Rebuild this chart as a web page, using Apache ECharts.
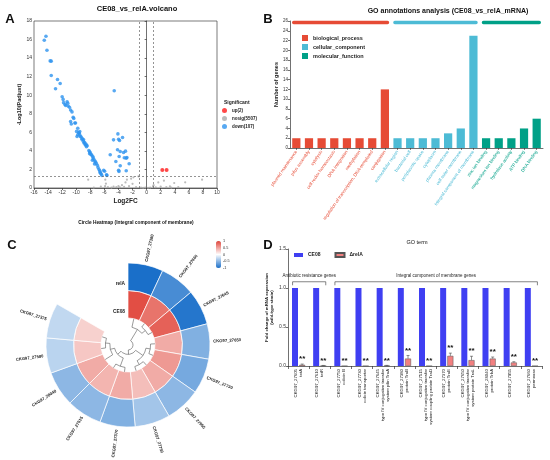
<!DOCTYPE html>
<html lang="en">
<head>
  <meta charset="UTF-8">
  <title>Figure</title>
  <style>
    html, body { margin: 0; padding: 0; background: #fff; }
    #echart { width: 550px; height: 460px; }
  </style>
</head>
<body>
  <div id="echart"></div>
  <script src="https://cdn.jsdelivr.net/npm/echarts@6/dist/echarts.min.js"></script>
  <script>
    var FONT = 'Liberation Sans, Arial, Helvetica, sans-serif';

    // ---- A: volcano (log2FC, -log10 padj)
    var volcanoUp = [[2.23, 1.93], [2.84, 1.93]];
    var volcanoDown = [
      [-14.54, 15.93], [-14.3, 16.36], [-14.16, 14.85], [-13.7, 13.7], [-13.55, 13.67], [-13.55, 12.13],
      [-12.94, 10.7], [-12.66, 11.7], [-12.28, 11.27], [-12.0, 9.84], [-11.86, 9.55], [-11.8, 9.2],
      [-11.6, 9.0], [-11.5, 8.9], [-11.3, 9.3], [-11.2, 9.13], [-11.15, 8.84], [-10.96, 8.7], [-10.8, 8.41],
      [-10.6, 8.2], [-10.44, 7.62], [-10.35, 7.5], [-10.8, 7.16], [-10.7, 6.9], [-10.2, 7.0], [-10.1, 7.0],
      [-9.95, 6.1], [-9.78, 6.44], [-9.64, 5.98], [-9.6, 5.9], [-9.5, 5.73], [-9.5, 6.08], [-9.4, 5.55],
      [-9.88, 5.55], [-9.78, 5.73], [-9.3, 5.5], [-9.2, 5.25], [-9.1, 5.3], [-9.0, 5.05], [-8.95, 5.2],
      [-8.9, 4.85], [-8.8, 4.9], [-8.75, 4.75], [-8.65, 4.6], [-8.6, 4.7], [-8.55, 4.45], [-8.45, 4.55],
      [-8.2, 4.04], [-8.1, 3.9], [-8.0, 3.8], [-8.1, 3.7], [-7.9, 3.6], [-7.8, 3.55], [-7.7, 3.0],
      [-7.65, 3.4], [-7.6, 3.25], [-7.5, 3.1], [-7.4, 2.6], [-7.35, 2.9], [-7.25, 2.8], [-7.15, 2.65],
      [-7.0, 2.45], [-6.9, 2.2], [-6.76, 2.0], [-6.66, 1.85], [-6.6, 1.7], [-6.55, 1.6], [-6.45, 1.5],
      [-6.35, 1.35], [-6.1, 1.9], [-5.97, 1.8], [-5.7, 1.43], [-5.64, 1.36],
      [-4.6, 10.49], [-5.17, 3.58], [-4.7, 5.19], [-4.37, 2.86], [-4.08, 5.83], [-3.98, 5.26], [-3.85, 5.12],
      [-4.13, 4.12], [-3.9, 3.4], [-3.98, 1.9], [-3.93, 1.79], [-3.75, 2.4], [-3.42, 5.44], [-3.28, 3.83],
      [-3.0, 3.97], [-2.9, 3.22], [-2.8, 3.29], [-2.9, 1.86], [-3.17, 3.26], [-2.48, 2.61], [-3.75, 3.94]
    ];
    var volcanoNosig = [
      [-8.3, 0.9], [-7.5, 0.05], [-6.5, 0.15], [-5.87, 0.9], [-5.78, 0.47], [-5.9, 0.2], [-5.5, 0.1],
      [-5.0, 0.05], [-4.7, 0.15], [-4.3, 0.1], [-4.0, 0.2], [-3.8, 0.08], [-3.5, 0.3], [-3.2, 0.12],
      [-3.0, 0.6], [-2.8, 0.9], [-2.5, 0.2], [-2.2, 1.0], [-2.0, 0.45], [-1.87, 1.15], [-1.5, 0.1],
      [-1.16, 1.25], [-0.8, 0.05], [-0.5, 0.02], [-0.2, 0.03], [0.2, 0.02], [0.5, 0.05], [0.9, 0.18],
      [1.0, 0.3], [1.3, 0.08], [1.66, 0.6], [2.0, 0.15], [2.46, 0.79], [2.8, 0.1], [3.31, 0.18],
      [3.5, 0.05], [3.92, 0.54], [4.5, 0.1], [5.48, 0.61], [7.88, 0.9]
    ];
    var volcanoNames = ['up(2)', 'nosig(5507)', 'down(107)'];
    var volcanoX = { min: -16, max: 10, step: 2 };
    var volcanoY = { min: 0, max: 18, step: 2 };
    var fcCut = 1, padjCut = 1.3;

    // ---- B: GO annotation counts
    var goGroups = ['biological_process', 'cellular_component', 'molecular_function'];
    var goColors = ['#E64B35', '#4DBBD5', '#00A087'];
    var bpTerms = ['plasmid maintenance', 'pilus assembly', 'cytolysis', 'cell redox homeostasis', 'DNA integration',
      'methylation', 'regulation of transcription, DNA-templated', 'conjugation'];
    var bpCounts = [2, 2, 2, 2, 2, 2, 2, 12];
    var ccTerms = ['extracellular region', 'bacterial cell', 'periplasmic space', 'cytoplasm', 'plasma membrane',
      'cell outer membrane', 'integral component of membrane'];
    var ccCounts = [2, 2, 2, 2, 3, 4, 23];
    var mfTerms = ['zinc ion binding', 'magnesium ion binding', 'hydrolase activity', 'ATP binding', 'DNA binding'];
    var mfCounts = [2, 2, 2, 4, 6];

    // ---- C: circle heatmap
    var heatGenes = ['CKG97_27380', 'CKG97_27660', 'CKG97_27645', 'CKG97_27650', 'CKG97_27730', 'CKG97_27955',
      'CKG97_27750', 'CKG97_27370', 'CKG97_27515', 'CKG97_28040', 'CKG97_27580', 'CKG97_27375'];
    var heatCE08 = [0.95, 0.75, 0.85, 0.45, 0.55, 0.45, 0.35, 0.45, 0.4, 0.45, 0.3, 0.25];
    var heatRelA = [-1, -0.8, -0.95, -0.55, -0.6, -0.5, -0.4, -0.55, -0.5, -0.5, -0.3, -0.27];
    var heatRings = ['CE08', 'relA'];
    var heatTree = [[0, [1, 2]], [[[3, 4], [5, 6]], [[7, 8], [9, [10, 11]]]]];
    var colorbarTicks = [1, 0.5, 0, -0.5, -1];

    // ---- D: fold change
    var dGenes = ['CKG97_27605\ntetA', 'CKG97_27610\ntetR', 'CKG97_27750\ncolicin B', 'CKG97_27730\ncolicin transporter',
      'CKG97_27645\ntype IV conjugative transfer\nsystem pilin TraA', 'CKG97_27380\nprotein TraB',
      'CKG97_27515\ntype IV conjugative transfer\nsystem coupling protein TraD', 'CKG97_27370\nprotein TraE',
      'CKG97_27650\ntype IV conjugative transfer\nsystem protein TraL', 'CKG97_28040\nprotein TrbA',
      'CKG97_27955', 'CKG97_27660\npermease'];
    var dCE08 = [1, 1, 1, 1, 1, 1, 1, 1, 1, 1, 1, 1];
    var dRelA = [0.015, 0.004, 0, 0, 0.005, 0.095, 0, 0.13, 0.075, 0.095, 0.045, 0];
    var dRelAErr = [0.01, 0.003, 0, 0, 0.003, 0.04, 0, 0.035, 0.05, 0.02, 0.01, 0];
    var dBracketNames = ['Antibiotic resistance genes', 'Integral component of membrane genes'];
    var dBracketRanges = [[0, 1], [2, 11]];
    var dSeries = ['CE08', '\u0394relA'];

    // ---------- derived tables
    var goTerms = bpTerms.concat(ccTerms, mfTerms);
    var goGroupOf = [];
    var groupSpans = [];
    [bpTerms, ccTerms, mfTerms].forEach(function (t, g) {
      groupSpans.push([goGroupOf.length, goGroupOf.length + t.length - 1, g]);
      t.forEach(function () { goGroupOf.push(g); });
    });
    function padCounts(g, counts) {
      var k = 0;
      return goGroupOf.map(function (gg) { return gg === g ? counts[k++] : 0; });
    }
    var heatData = [];
    heatGenes.forEach(function (_, i) {
      heatData.push([i, 0, heatCE08[i]]);
      heatData.push([i, 1, heatRelA[i]]);
    });
    var errData = dRelA.map(function (v, i) { return [i, v, dRelAErr[i]]; });
    var bracketData = dBracketRanges.map(function (r, i) { return [r[0], r[1], i]; });

    var BAR_W = 6, BAR_GAP = 0.2;
    var SPAN = 300 / heatGenes.length;

    function axisStyle(size) {
      return {
        axisLine: { show: true, lineStyle: { color: '#333', width: 0.7 } },
        axisTick: { show: true, length: 2, lineStyle: { color: '#333', width: 0.7 } },
        axisLabel: { fontSize: size, color: '#333', margin: 2, fontFamily: FONT },
        splitLine: { show: false }
      };
    }
    function merge(a, b) { for (var k in b) a[k] = b[k]; return a; }

    function txt(text, x, y, size, bold, align, color) {
      return {
        type: 'text', x: x, y: y, silent: true,
        style: {
          text: text, fontSize: size, fontWeight: bold ? 'bold' : 'normal', fontFamily: FONT,
          fill: color || '#111', align: align || 'center', verticalAlign: 'middle'
        }
      };
    }

    // B: coloured header bars over each GO group
    function renderHeader(params, api) {
      var p0 = api.coord([api.value(0), 25.7]);
      var p1 = api.coord([api.value(1), 25.7]);
      var band = api.size([1, 0])[0];
      return {
        type: 'rect',
        shape: { x: p0[0] - band / 2 + 2, y: p0[1] - 1.7, width: p1[0] - p0[0] + band - 4, height: 3.4, r: 1.7 },
        style: { fill: goColors[api.value(2)] }
      };
    }

    // D: error whiskers + significance marks on the ΔrelA bars
    function renderErr(params, api) {
      var v = api.value(1), e = api.value(2);
      var base = api.coord([api.value(0), v]);
      var top = api.coord([api.value(0), v + e]);
      var x = base[0] + BAR_W * (1 + BAR_GAP) / 2;
      var kids = [];
      if (e > 0) {
        kids.push({ type: 'line', shape: { x1: x, y1: base[1], x2: x, y2: top[1] }, style: { stroke: '#444', lineWidth: 0.6 } });
        kids.push({ type: 'line', shape: { x1: x - 1.5, y1: top[1], x2: x + 1.5, y2: top[1] }, style: { stroke: '#444', lineWidth: 0.6 } });
      }
      kids.push({
        type: 'text', x: x, y: top[1] - 1,
        style: { text: '**', fontSize: 8, fontWeight: 'bold', fontFamily: FONT, fill: '#111', align: 'center', verticalAlign: 'bottom' }
      });
      return { type: 'group', children: kids };
    }

    function renderBracket(params, api) {
      var x0 = api.coord([api.value(0), 0])[0] - 6;
      var x1 = api.coord([api.value(1), 0])[0] + 6;
      var y = api.coord([0, 1.08])[1];
      var yTip = api.coord([0, 1.035])[1];
      var yText = api.coord([0, 1.12])[1];
      return {
        type: 'group', children: [
          { type: 'polyline', shape: { points: [[x0, yTip], [x0, y], [x1, y], [x1, yTip]] }, style: { stroke: '#333', lineWidth: 0.6, fill: null } },
          { type: 'text', x: (x0 + x1) / 2, y: yText, style: { text: dBracketNames[api.value(2)], fontSize: 4.5, fontFamily: FONT, fill: '#222', align: 'center', verticalAlign: 'bottom' } }
        ]
      };
    }

    // C: heat sectors, angle axis runs clockwise from 12 o'clock
    function renderHeat(params, api) {
      var cs = params.coordSys;
      var i = api.value(0), ring = api.value(1);
      function pt(rv, av) {
        var p = api.coord([rv, av]);
        return { x: p[0], y: p[1], r: Math.hypot(p[0] - cs.cx, p[1] - cs.cy), a: Math.atan2(p[1] - cs.cy, p[0] - cs.cx) };
      }
      var inner = pt(ring, i * SPAN), outer = pt(ring + 1, i * SPAN), end = pt(ring, (i + 1) * SPAN);
      var a0 = inner.a, a1 = end.a;
      while (a1 <= a0) a1 += Math.PI * 2;
      var kids = [{
        type: 'sector',
        shape: { cx: cs.cx, cy: cs.cy, r0: inner.r, r: outer.r, startAngle: a0, endAngle: a1, clockwise: true },
        style: { fill: api.visual('color'), stroke: '#fff', lineWidth: 0.7 }
      }];
      if (ring === 1) {
        var lp = pt(2.12, (i + 0.5) * SPAN);
        var right = Math.cos(lp.a) >= 0;
        kids.push({
          type: 'text', x: lp.x, y: lp.y, rotation: right ? -lp.a : Math.PI - lp.a,
          style: { text: heatGenes[i], fontSize: 4.2, fontWeight: 'bold', fontFamily: FONT, fill: '#222', align: right ? 'left' : 'right', verticalAlign: 'middle' }
        });
      }
      if (i === 0) {
        var rp = pt(ring + 0.5, 0);
        kids.push({
          type: 'text', x: rp.x - 3, y: rp.y + 7,
          style: { text: heatRings[ring], fontSize: 4.8, fontWeight: 'bold', fontFamily: FONT, fill: '#222', align: 'right', verticalAlign: 'middle' }
        });
      }
      return { type: 'group', children: kids };
    }

    function renderTree(params, api) {
      var cs = params.coordSys;
      function depth(n) { return typeof n === 'number' ? 0 : 1 + Math.max.apply(null, n.map(depth)); }
      var H = depth(heatTree);
      var r0 = cs.r0, step = (r0 - 5) / H;
      var els = [];
      var st = { stroke: '#555', lineWidth: 0.6, fill: null };
      function ang(av) { var p = api.coord([0, av]); return Math.atan2(p[1] - cs.cy, p[0] - cs.cx); }
      function walk(n) {
        if (typeof n === 'number') return { av: (n + 0.5) * SPAN, h: 0 };
        var kids = n.map(walk);
        var h = 1 + Math.max.apply(null, kids.map(function (k) { return k.h; }));
        var rN = r0 - h * step;
        kids.forEach(function (k) {
          var rK = r0 - k.h * step, t = ang(k.av);
          els.push({ type: 'line', shape: { x1: cs.cx + rK * Math.cos(t), y1: cs.cy + rK * Math.sin(t), x2: cs.cx + rN * Math.cos(t), y2: cs.cy + rN * Math.sin(t) }, style: st });
        });
        var a0 = ang(kids[0].av), a1 = ang(kids[kids.length - 1].av);
        while (a1 < a0) a1 += Math.PI * 2;
        els.push({ type: 'arc', shape: { cx: cs.cx, cy: cs.cy, r: rN, startAngle: a0, endAngle: a1, clockwise: true }, style: st });
        return { av: (kids[0].av + kids[kids.length - 1].av) / 2, h: h };
      }
      walk(heatTree);
      return { type: 'group', children: els };
    }

    // colour bar tick labels
    var cbTop = 241, cbH = 27, cbLeft = 216;
    var graphics = [
      txt('A', 10, 19, 13, true), txt('B', 268, 19, 13, true),
      txt('C', 12, 245, 13, true), txt('D', 268, 245, 13, true),
      txt('CE08_vs_relA.volcano', 137, 9, 7.5, true),
      txt('GO annotations analysis (CE08_vs_relA_mRNA)', 448, 11, 7, true),
      txt('Circle Heatmap (Integral component of membrane)', 136, 223, 4.8, true),
      txt('GO term', 417, 242, 5.5, false),
      txt('Significant', 224, 103, 5, true, 'left', '#222')
    ];
    colorbarTicks.forEach(function (t) {
      graphics.push(txt(String(t), cbLeft + 7, cbTop + (1 - (t + 1) / 2) * cbH, 3.8, false, 'left', '#333'));
    });

    var option = {
      animation: false,
      backgroundColor: '#fff',
      textStyle: { fontFamily: FONT },
      graphic: graphics,
      grid: [
        { left: 34, top: 21, width: 183, height: 167, show: true, borderColor: '#444', borderWidth: 0.7 },
        { left: 290, top: 21, width: 253, height: 127 },
        { left: 288, top: 249, width: 254, height: 117 }
      ],
      polar: { center: [128, 345], radius: [27, 82] },
      angleAxis: { type: 'value', min: 0, max: 360, startAngle: 90, clockwise: true, show: false },
      radiusAxis: { type: 'value', min: 0, max: 2, show: false },
      xAxis: [
        merge(axisStyle(5), {
          gridIndex: 0, type: 'value', min: volcanoX.min, max: volcanoX.max, interval: volcanoX.step,
          name: 'Log2FC', nameLocation: 'middle', nameGap: 10,
          nameTextStyle: { fontSize: 6.5, fontWeight: 'bold', color: '#222' }
        }),
        merge(axisStyle(4.5), {
          gridIndex: 1, type: 'category', data: goTerms,
          axisTick: { show: true, length: 2, alignWithLabel: true, lineStyle: { color: '#333', width: 0.6 } },
          axisLabel: {
            interval: 0, rotate: 55, fontSize: 4.5, margin: 3, fontFamily: FONT,
            color: function (v, i) { return goColors[goGroupOf[i]]; }
          }
        }),
        merge(axisStyle(4.5), {
          gridIndex: 2, type: 'category', data: dGenes,
          axisTick: { show: true, length: 3, lineStyle: { color: '#333', width: 0.7 } },
          axisLabel: { interval: 0, rotate: 90, fontSize: 4.3, lineHeight: 5, margin: 3, color: '#222', fontFamily: FONT }
        })
      ],
      yAxis: [
        merge(axisStyle(5), {
          gridIndex: 0, type: 'value', min: volcanoY.min, max: volcanoY.max, interval: volcanoY.step,
          name: '-Log10(Padjust)', nameLocation: 'middle', nameGap: 9,
          nameTextStyle: { fontSize: 5.5, fontWeight: 'bold', color: '#222' }
        }),
        merge(axisStyle(4.5), {
          gridIndex: 1, type: 'value', min: 0, max: 26, interval: 2,
          name: 'Number of genes', nameLocation: 'middle', nameGap: 9,
          nameTextStyle: { fontSize: 5.5, fontWeight: 'bold', color: '#222' }
        }),
        merge(axisStyle(5), {
          gridIndex: 2, type: 'value', min: 0, max: 1.5, interval: 0.5,
          axisLabel: { fontSize: 5, color: '#333', margin: 2, fontFamily: FONT, formatter: function (v) { return v.toFixed(1); } },
          name: 'Fold change of mRNA expression\n(wild-type strain)', nameLocation: 'middle', nameGap: 14,
          nameTextStyle: { fontSize: 4.3, fontWeight: 'bold', color: '#222', lineHeight: 5 }
        })
      ],
      legend: [
        {
          data: volcanoNames, orient: 'vertical', left: 222, top: 108, padding: 0, selectedMode: false,
          icon: 'circle', itemWidth: 5, itemHeight: 5, itemGap: 3,
          textStyle: { fontSize: 4.5, fontWeight: 'bold', color: '#222', fontFamily: FONT }
        },
        {
          data: goGroups, orient: 'vertical', left: 302, top: 35, padding: 0, selectedMode: false,
          icon: 'rect', itemWidth: 6, itemHeight: 6, itemGap: 3,
          textStyle: { fontSize: 5.5, fontWeight: 'bold', color: '#222', fontFamily: FONT }
        },
        {
          data: dSeries, left: 294, top: 252, padding: 0, selectedMode: false,
          icon: 'rect', itemWidth: 9, itemHeight: 4, itemGap: 14,
          textStyle: { fontSize: 5, fontWeight: 'bold', color: '#222', fontFamily: FONT }
        }
      ],
      visualMap: {
        type: 'continuous', min: -1, max: 1, seriesIndex: 11, dimension: 2,
        left: cbLeft, top: cbTop, itemWidth: 5, itemHeight: cbH, padding: 0, calculable: false,
        inRange: { color: ['#1a6fc9', '#ffffff', '#e0453a'] }
      },
      series: [
        { name: volcanoNames[0], type: 'scatter', xAxisIndex: 0, yAxisIndex: 0, data: volcanoUp, symbolSize: 4, itemStyle: { color: '#ff1a1a' } },
        {
          name: volcanoNames[1], type: 'scatter', xAxisIndex: 0, yAxisIndex: 0, data: volcanoNosig, symbolSize: 2.2, itemStyle: { color: '#aaaaaa' },
          markLine: {
            silent: true, symbol: 'none', label: { show: false },
            lineStyle: { type: [2, 2], color: '#666', width: 0.7 },
            data: [{ xAxis: -fcCut }, { xAxis: fcCut }, { yAxis: padjCut }]
          }
        },
        { name: volcanoNames[2], type: 'scatter', xAxisIndex: 0, yAxisIndex: 0, data: volcanoDown, symbolSize: 3.6, itemStyle: { color: '#2e93ef' } },

        { name: goGroups[0], type: 'bar', xAxisIndex: 1, yAxisIndex: 1, stack: 'go', barWidth: '65%', data: padCounts(0, bpCounts), itemStyle: { color: goColors[0] } },
        { name: goGroups[1], type: 'bar', xAxisIndex: 1, yAxisIndex: 1, stack: 'go', barWidth: '65%', data: padCounts(1, ccCounts), itemStyle: { color: goColors[1] } },
        { name: goGroups[2], type: 'bar', xAxisIndex: 1, yAxisIndex: 1, stack: 'go', barWidth: '65%', data: padCounts(2, mfCounts), itemStyle: { color: goColors[2] } },
        { type: 'custom', xAxisIndex: 1, yAxisIndex: 1, data: groupSpans, renderItem: renderHeader, silent: true },

        { name: dSeries[0], type: 'bar', xAxisIndex: 2, yAxisIndex: 2, barWidth: BAR_W, barGap: (BAR_GAP * 100) + '%', data: dCE08, itemStyle: { color: '#3f3ff2' } },
        { name: dSeries[1], type: 'bar', xAxisIndex: 2, yAxisIndex: 2, barWidth: BAR_W, data: dRelA, itemStyle: { color: '#f28080', borderColor: '#555', borderWidth: 0.5 } },
        { type: 'custom', xAxisIndex: 2, yAxisIndex: 2, data: errData, renderItem: renderErr, silent: true, z: 5 },
        { type: 'custom', xAxisIndex: 2, yAxisIndex: 2, data: bracketData, renderItem: renderBracket, silent: true },

        { type: 'custom', coordinateSystem: 'polar', data: heatData, renderItem: renderHeat, silent: true },
        { type: 'custom', coordinateSystem: 'polar', data: [[0, 0]], renderItem: renderTree, silent: true }
      ]
    };

    var myChart = echarts.init(document.getElementById('echart'));
    myChart.setOption(option);
  </script>
</body>
</html>
